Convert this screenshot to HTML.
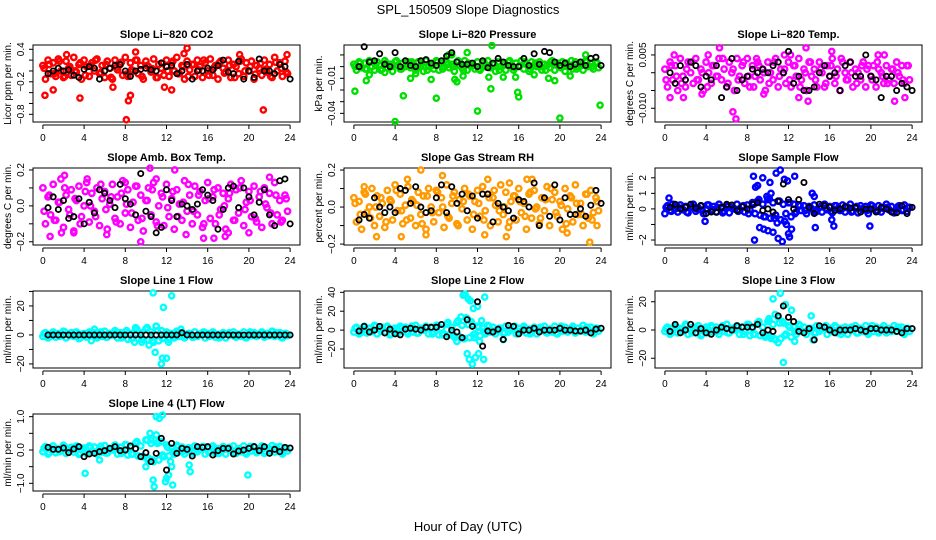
<!DOCTYPE html>
<html><head><meta charset="utf-8"><title>SPL_150509 Slope Diagnostics</title>
<style>
html,body{margin:0;padding:0;background:#fff;}
svg{display:block;font-family:"Liberation Sans",Arial,sans-serif;}
</style></head>
<body>
<svg id="chart" width="936" height="540" viewBox="0 0 936 540">
<text x="468" y="14" text-anchor="middle" font-size="13">SPL_150509  Slope Diagnostics</text>
<text x="468" y="531" text-anchor="middle" font-size="13">Hour of Day (UTC)</text>
</svg>
<script>
// shared x categories
var bandHours = [0,0.25,0.5,0.75,1,1.25,1.5,1.75,2,2.25,2.5,2.75,3,3.25,3.5,3.75,4,4.25,4.5,4.75,5,5.25,5.5,5.75,6,6.25,6.5,6.75,7,7.25,7.5,7.75,8,8.25,8.5,8.75,9,9.25,9.5,9.75,10,10.25,10.5,10.75,11,11.25,11.5,11.75,12,12.25,12.5,12.75,13,13.25,13.5,13.75,14,14.25,14.5,14.75,15,15.25,15.5,15.75,16,16.25,16.5,16.75,17,17.25,17.5,17.75,18,18.25,18.5,18.75,19,19.25,19.5,19.75,20,20.25,20.5,20.75,21,21.25,21.5,21.75,22,22.25,22.5,22.75,23,23.25,23.5,23.75];
var band2Hours = [0.12,0.62,1.12,1.62,2.12,2.62,3.12,3.62,4.12,4.62,5.12,5.62,6.12,6.62,7.12,7.62,8.12,8.62,9.12,9.62,10.12,10.62,11.12,11.62,12.12,12.62,13.12,13.62,14.12,14.62,15.12,15.62,16.12,16.62,17.12,17.62,18.12,18.62,19.12,19.62,20.12,20.62,21.12,21.62,22.12,22.62,23.12,23.62];
var blackHours = [0.5,1,1.5,2,2.5,3,3.5,4,4.5,5,5.5,6,6.5,7,7.5,8,8.5,9,9.5,10,10.5,11,11.5,12,12.5,13,13.5,14,14.5,15,15.5,16,16.5,17,17.5,18,18.5,19,19.5,20,20.5,21,21.5,22,22.5,23,23.5,24];
var xTicks = [0,4,8,12,16,20,24];

// Panel 1: CO2
var co2Band = [0.1,-0.15,0.2,-0.05,0.15,-0.1,0.22,0.0,-0.12,0.18,0.05,-0.08,0.25,-0.02,0.12,-0.15,0.2,0.08,-0.1,0.15,0.0,0.22,-0.05,0.1,-0.12,0.18,0.05,-0.15,0.2,0.02,0.12,-0.08,0.25,-0.1,0.15,0.0,0.2,-0.05,0.1,-0.15,0.18,0.08,-0.02,0.22,-0.12,0.12,0.05,-0.08,0.2,-0.1,0.15,0.0,0.25,-0.05,0.1,-0.15,0.18,0.02,0.12,-0.1,0.2,0.08,-0.12,0.15,0.0,0.22,-0.08,0.1,-0.15,0.18,0.05,-0.02,0.2,-0.12,0.12,0.08,-0.05,0.22,-0.1,0.15,0.0,0.18,-0.15,0.1,0.05,-0.08,0.2,-0.02,0.12,-0.12,0.25,0.0,0.15,-0.1,0.18,-0.05];
var co2Band2 = [0.05,0.12,-0.05,0.18,-0.1,0.08,0.0,0.15,-0.08,0.1,0.2,-0.03,0.12,-0.12,0.06,0.16,-0.06,0.02,0.2,-0.1,0.1,0.04,-0.12,0.14,0.0,0.18,-0.05,0.08,-0.1,0.12,0.02,0.2,-0.08,0.06,0.15,-0.04,0.1,-0.12,0.18,0.0,0.08,-0.06,0.14,0.03,-0.1,0.16,0.05,-0.02];
var co2Black = [-0.05,0.0,0.05,0.0,0.02,-0.08,-0.12,0.03,0.08,0.05,-0.15,0.0,0.05,0.1,0.12,0.0,-0.1,0.0,0.03,0.05,0.02,0.0,0.15,0.08,0.1,-0.05,0.0,0.12,-0.15,0.0,0.0,0.05,0.02,0.1,0.2,-0.02,-0.05,0.18,-0.15,0.0,-0.12,0.22,0.0,0.0,-0.05,0.12,0.08,-0.15];
var co2OutH = [0.2,1.0,3.6,8.1,8.3,8.5,13.7,14.0,19.1,21.4,23.7,2.3,11.8,12.5,6.8,9.0];
var co2OutV = [-0.45,-0.35,-0.5,-0.9,-0.55,-0.45,0.32,0.42,0.3,-0.72,0.3,0.3,-0.3,-0.35,-0.3,0.35];

// Panel 2: Pressure
var presBand = [0.002,-0.003,0.004,-0.001,0.003,-0.002,0.005,0.0,-0.003,0.004,0.001,-0.002,0.005,-0.001,0.002,-0.004,0.004,0.001,-0.002,0.003,0.0,0.004,-0.001,0.002,-0.003,0.004,0.001,-0.004,0.005,0.0,0.002,-0.002,0.005,-0.003,0.003,0.0,0.004,-0.001,0.002,-0.004,0.004,0.001,-0.001,0.005,-0.003,0.002,0.001,-0.002,0.004,-0.003,0.003,0.0,0.005,-0.001,0.002,-0.004,0.004,0.0,0.002,-0.003,0.004,0.001,-0.003,0.003,0.0,0.005,-0.002,0.002,-0.004,0.004,0.001,0.0,0.004,-0.003,0.002,0.001,-0.001,0.005,-0.003,0.003,0.0,0.004,-0.004,0.002,0.001,-0.002,0.004,0.0,0.002,-0.003,0.005,0.0,0.003,-0.002,0.004,-0.001];
var presBand2 = [0.0,0.003,-0.002,0.004,0.001,-0.003,0.003,0.0,0.005,-0.002,0.002,0.004,-0.001,0.003,-0.003,0.001,0.004,-0.002,0.002,0.0,0.005,-0.003,0.003,0.001,-0.002,0.004,0.0,0.002,-0.003,0.003,0.005,-0.001,0.001,0.004,-0.002,0.003,0.0,-0.003,0.004,0.002,-0.001,0.003,0.005,-0.002,0.001,0.004,0.0,0.003];
var presBlack = [0.0,0.017,0.004,0.005,0.011,0.002,0.0,0.012,0.0,0.005,0.001,0.0,0.005,0.006,0.003,0.001,0.005,0.009,0.012,0.004,0.002,0.002,0.003,0.0,0.005,-0.001,0.003,0.007,0.004,0.001,0.0,0.0,0.007,0.001,0.011,0.002,0.013,0.012,0.004,0.001,0.003,0.0,0.002,0.004,0.001,0.007,0.008,0.001];
var presOutH = [0.1,1.2,1.5,4.0,4.8,8.0,12.0,13.3,13.4,15.9,16.0,20.0,23.9,5.5,7.5,9.2,10.0,14.5,17.5,19.5,21.0,22.5,9.5,11.0,6.0,3.0,9.8,10.6,13.1,15.7,18.9];
var presOutV = [-0.021,-0.012,-0.007,-0.047,-0.025,-0.027,-0.038,-0.019,0.018,-0.022,-0.026,-0.044,-0.033,-0.01,-0.011,0.01,-0.013,-0.009,-0.007,-0.012,-0.008,0.01,0.01,0.012,-0.006,-0.005,-0.011,-0.008,-0.009,-0.009,-0.01];

// Panel 3: Li-820 Temp
var tempBand = [0.001,-0.004,0.003,-0.002,0.002,-0.005,0.004,-0.001,-0.004,0.003,0.0,-0.003,0.004,-0.002,0.001,-0.005,0.003,0.0,-0.003,0.002,-0.001,0.004,-0.002,0.001,-0.004,0.003,0.0,-0.005,0.004,-0.001,0.002,-0.003,0.004,-0.004,0.002,-0.001,0.003,-0.002,0.001,-0.005,0.003,0.0,-0.002,0.004,-0.004,0.001,0.0,-0.003,0.003,-0.004,0.002,-0.001,0.004,-0.002,0.001,-0.005,0.003,-0.001,0.001,-0.004,0.003,0.0,-0.004,0.002,-0.001,0.004,-0.003,0.001,-0.005,0.003,0.0,-0.002,0.003,-0.004,0.001,0.0,-0.002,0.003,-0.004,0.002,-0.001,0.002,-0.004,0.001,0.0,-0.003,0.002,-0.002,0.001,-0.003,0.003,-0.001,0.002,-0.003,0.002,-0.002];
var tempBand2 = [-0.002,0.002,-0.001,-0.003,0.001,0.003,-0.002,0.0,-0.004,0.002,-0.001,0.004,-0.003,0.001,-0.002,0.003,-0.001,-0.004,0.002,0.0,-0.003,0.003,-0.001,0.001,-0.002,0.002,-0.004,0.0,0.003,-0.002,0.001,-0.003,0.002,-0.001,0.004,-0.002,0.0,-0.003,0.002,0.001,-0.002,0.003,-0.001,-0.003,0.001,0.0,-0.002,0.002];
var tempBlack = [0.0,-0.003,0.002,-0.002,0.003,0.002,-0.004,-0.001,-0.002,0.002,-0.007,-0.004,0.004,-0.005,-0.002,-0.001,0.001,0.0,0.001,0.0,0.002,0.003,0.0,0.006,-0.003,-0.001,-0.005,-0.005,-0.004,0.0,0.002,-0.001,0.0,-0.005,0.002,0.003,-0.001,-0.001,0.005,-0.001,-0.002,-0.007,-0.001,-0.001,-0.005,-0.003,-0.004,-0.005];
var tempOutH = [0.5,5.3,6.6,6.9,13.7,0.9,4.2,8.9,11.6,12.2,13.0,16.2,20.7,21.3,22.3,23.3,13.9,3.6,9.6,1.8];
var tempOutV = [-0.007,0.007,-0.011,-0.013,0.007,0.005,0.005,0.004,0.005,0.005,-0.007,0.006,0.005,0.005,-0.008,-0.007,-0.008,-0.006,-0.006,-0.007];

// Panel 4: Ambient Box Temp
var ambBand = [0.1,-0.1,0.05,-0.05,0.12,-0.08,0.02,0.15,-0.12,0.06,-0.02,0.09,-0.14,0.03,0.11,-0.06,0.0,0.13,-0.09,0.07,-0.03,0.1,-0.11,0.04,0.08,-0.13,0.01,0.12,-0.07,0.05,-0.1,0.14,-0.04,0.09,-0.12,0.02,0.11,-0.08,0.06,-0.14,0.03,0.1,-0.05,0.13,-0.09,0.0,0.07,-0.11,0.12,-0.06,0.04,-0.13,0.09,0.01,-0.08,0.14,-0.03,0.06,-0.1,0.11,-0.05,0.08,-0.12,0.03,0.13,-0.07,0.05,-0.1,0.1,-0.02,0.07,-0.13,0.04,0.12,-0.08,0.09,-0.04,0.14,-0.11,0.02,0.08,-0.06,0.11,-0.09,0.05,-0.12,0.1,-0.01,0.07,-0.1,0.13,-0.05,0.03,-0.08,0.06,-0.03];
var ambBand2 = [-0.03,0.06,-0.08,0.02,0.1,-0.05,0.04,-0.1,0.08,0.0,-0.06,0.12,-0.02,0.05,-0.09,0.07,0.01,-0.04,0.11,-0.07,0.03,0.09,-0.11,0.05,-0.01,0.08,-0.06,0.02,0.12,-0.03,0.06,-0.1,0.04,0.09,-0.05,0.0,0.07,-0.08,0.1,-0.02,0.03,-0.07,0.08,0.01,-0.04,0.06,-0.09,0.04];
var ambBlack = [-0.01,0.05,-0.02,0.03,-0.07,-0.06,0.04,-0.1,0.02,-0.04,0.09,0.07,0.03,-0.01,0.12,0.04,0.01,-0.05,0.18,-0.03,-0.06,-0.15,-0.12,0.09,0.03,-0.06,0.01,0.0,-0.02,0.01,0.09,0.06,0.03,-0.13,-0.02,0.1,0.11,-0.01,0.1,0.05,-0.05,0.02,0.09,-0.05,-0.11,0.14,0.15,-0.1];
var ambOutH = [0.7,1.8,3.0,6.2,4.3,9.5,10.4,11.0,12.8,15.6,16.6,18.0,2.1,8.0,13.9,17.7,22.0,20.0];
var ambOutV = [-0.17,-0.15,-0.15,-0.16,0.15,-0.2,0.21,0.15,0.2,-0.18,-0.18,-0.15,0.17,0.13,-0.16,-0.17,0.16,-0.15];

// Panel 5: Gas Stream RH
var rhBand = [0.05,-0.08,0.03,-0.12,0.08,-0.03,0.0,0.1,-0.1,0.06,-0.05,0.02,-0.11,0.09,0.04,-0.07,0.12,-0.02,0.07,-0.09,0.01,0.11,-0.06,0.03,-0.1,0.08,-0.04,0.06,-0.12,0.1,0.0,-0.08,0.09,-0.03,0.05,-0.11,0.12,-0.06,0.02,0.08,-0.09,0.04,-0.01,0.1,-0.07,0.06,-0.12,0.03,0.09,-0.05,0.11,-0.02,0.07,-0.1,0.05,0.01,-0.08,0.12,-0.04,0.08,-0.11,0.03,0.06,-0.07,0.1,-0.03,0.02,-0.12,0.07,-0.06,0.09,0.0,-0.09,0.05,-0.02,0.11,-0.1,0.04,0.08,-0.05,0.03,-0.12,0.1,-0.01,0.06,-0.08,0.12,-0.04,0.02,-0.1,0.07,-0.06,0.09,-0.03,0.05,-0.02];
var rhBand2 = [0.02,-0.04,0.07,-0.06,0.0,0.05,-0.08,0.03,0.09,-0.02,-0.07,0.04,0.01,-0.09,0.06,-0.03,0.08,0.0,-0.05,0.06,-0.1,0.03,0.07,-0.04,0.02,-0.07,0.05,0.09,-0.02,0.0,-0.08,0.06,0.03,-0.05,0.08,-0.01,-0.06,0.04,0.1,-0.03,0.01,-0.09,0.05,0.02,-0.04,0.07,-0.07,0.03];
var rhBlack = [-0.07,-0.04,-0.06,0.05,0.0,-0.03,0.0,-0.03,0.1,0.09,0.02,0.11,0.0,-0.03,-0.02,0.05,0.12,-0.03,0.11,0.02,0.07,-0.02,0.06,-0.06,0.07,0.07,-0.08,0.02,0.0,-0.02,-0.06,0.04,0.03,0.0,0.13,-0.1,0.05,-0.05,0.12,-0.07,0.05,-0.04,-0.04,-0.01,-0.05,0.01,0.09,0.02];
var rhOutH = [2.2,1.0,5.2,4.6,6.5,7.0,8.6,12.7,14.8,16.8,17.3,22.9,23.6,15.1,20.7,13.0];
var rhOutV = [-0.16,0.11,0.15,-0.16,0.2,-0.15,0.17,-0.15,-0.16,0.15,0.15,-0.19,-0.1,0.13,-0.14,0.15];

// Panel 6: Sample Flow
var sfBand = [-0.3,0.2,-0.1,0.3,0.0,-0.2,0.25,-0.05,0.15,-0.25,0.1,0.3,-0.15,0.05,0.2,-0.3,0.0,0.25,-0.1,0.15,-0.2,0.3,0.05,-0.15,0.2,-0.25,0.1,0.0,0.3,-0.1,0.15,-0.2,0.25,-0.05,0.4,-0.3,0.5,-0.4,0.3,-0.5,0.6,-0.6,0.4,-0.4,0.5,-0.7,0.3,-0.3,0.4,-0.5,0.3,-0.2,0.25,-0.1,0.2,-0.3,0.15,0.0,0.25,-0.15,0.1,-0.2,0.3,-0.05,0.15,-0.25,0.2,0.0,-0.1,0.25,-0.2,0.1,0.3,-0.15,0.05,-0.25,0.2,-0.05,0.15,-0.3,0.25,0.0,-0.1,0.2,-0.2,0.1,0.3,-0.05,0.15,-0.25,0.05,0.2,-0.1,0.25,-0.15,0.1];
var sfBand2 = [0.1,-0.15,0.2,0.05,-0.2,0.15,0.0,-0.1,0.25,-0.05,0.1,-0.25,0.15,0.05,-0.15,0.2,-0.3,0.3,0.6,-0.5,0.7,-0.6,0.5,-0.8,0.4,-0.3,0.2,-0.1,0.1,-0.2,0.15,0.05,-0.15,0.2,-0.05,0.1,-0.2,0.15,0.0,-0.1,0.2,-0.15,0.05,0.1,-0.2,0.15,-0.05,0.1];
var sfBlack = [0.1,0.3,0.0,0.1,0.3,0.05,0.2,-0.3,-0.2,-0.2,0.1,0.3,0.25,-0.1,0.15,0.0,0.3,0.4,-0.1,0.0,-0.2,0.5,1.6,0.6,0.0,0.6,1.7,0.1,-0.3,0.3,0.2,0.1,-0.1,0.0,0.15,0.05,0.1,-0.2,0.0,0.0,-0.2,0.1,0.0,-0.2,-0.25,0.2,-0.3,0.1];
var sfOutH = [0.4,8.6,8.7,9.0,9.2,9.5,9.6,10.0,10.2,10.5,10.8,11.0,11.2,11.4,11.6,12.0,12.3,12.6,14.3,14.6,16.2,16.4,19.9,3.9,10.9,11.9,8.8,11.8,9.9,10.3,12.1,14.5];
var sfOutV = [0.7,2.1,-2.0,1.5,-1.2,2.0,-1.3,-1.4,1.7,-1.5,2.3,-1.9,2.5,-2.1,1.9,-1.6,-1.3,2.1,1.0,-1.2,-0.7,-1.1,-1.1,-0.8,-0.9,1.8,1.4,-1.0,0.8,1.0,-1.8,0.8];

// Panel 7: Line 1 Flow
var l1Band = [-1,1.5,-2,0.5,2,-1.5,1,-0.5,2.5,-2,0.5,1.5,-1,2,-2.5,0.5,1,-1.5,2,-0.5,1.5,-2,0.5,-1,2.5,-1.5,1,0,3,-2,1.5,-1,2,-3,1,-2,3.5,-2.5,1.5,-3,4,-3.5,2,-5,6,-4,3,-2,2,-3,1,-2,2.5,-1,1.5,-2,0.5,1,-1.5,2,-1,0.5,1.5,-2,1,-0.5,2,-1.5,0.5,-1,1.5,-2,1,0,2,-1.5,0.5,-1,2,-2,1,-0.5,1.5,-1,0.5,2,-1.5,1,-0.5,2.5,-1,0.5,1.5,-2,1,-0.5];
var l1Band2 = [1,-1.5,0.5,-1,2,-0.5,1.5,-2,0,1,-1,2,-1.5,0.5,1.5,-2,3,-2.5,4,-3,5,-4,3,-2.5,1.5,-1,2,-0.5,1,-1.5,0.5,2,-1,1,-2,0.5,1.5,-1,0,-1.5,2,-0.5,1,-1,0.5,1.5,-1.5,1];
var l1Black = [0,0,0,0,0,0,0,0,0,0,0,0,0,0,0,0,0,0,0,0,0,0,0,0,0,0,1.5,0,0,0,0,0,0,0,0,0,0,0,0,0,0,0,0,0,0,0,0,0];
var l1OutH = [10.7,11.5,11.7,12.5,10.9,11.0,11.6,12.0,12.2,8.9,9.6,10.3,9.0,13.4,5.0,4.7];
var l1OutV = [29,-20,19,27,-12,6,-16,-16,-5,-5,-5,-7,5,4,4,-4];

// Panel 8: Line 2 Flow
var l2Band = [-2,3,-4,1,4,-3,2,-1,5,-4,1,3,-2,4,-5,1,2,-3,4,-1,3,-4,1,-2,5,-3,2,0,4,-4,3,-2,5,-5,2,-4,6,-5,3,-6,8,-7,5,-9,12,-8,6,-4,4,-6,2,-4,5,-2,3,-4,1,2,-3,4,-2,1,3,-4,2,-1,4,-3,1,-2,3,-4,2,0,4,-3,1,-2,4,-4,2,-1,3,-2,1,4,-3,2,-1,5,-2,1,3,-4,2,-1];
var l2Band2 = [2,-3,1,-2,4,-1,3,-4,0,2,-2,4,-3,1,3,-4,5,-5,8,-6,10,-9,6,-5,3,-2,4,-1,2,-3,1,4,-2,2,-4,1,3,-2,0,-3,4,-1,2,-2,1,3,-3,2];
var l2Black = [-1,4,-2,0,4,-3,1,-4,-5,1,2,1,0,3,3,3,6,-7,0,-2,-8,11,4,30,-17,-1,-2,1,-10,5,4,-4,0,0,2,-2,0,0,0,2,0,0,-1,-1,0,-3,1,2];
var l2OutH = [10.6,10.8,11.1,11.3,11.6,12.0,12.7,11.0,11.2,11.5,11.8,12.1,12.6,10.4,10.9,11.4,12.2,14.5,10.0,9.8,12.4,11.7];
var l2OutV = [37,38,33,31,23,25,35,-25,-31,-36,-29,-25,-31,14,13,9,-12,-10,-12,-8,10,-8];

// Panel 9: Line 3 Flow
var l3Band = [-1,2,-3,1,3,-2,1,-1,4,-3,0,2,-2,3,-4,1,2,-2,3,-1,2,-3,1,-1,4,-2,1,0,3,-3,2,-1,4,-4,1,-3,5,-4,2,-5,6,-5,4,-7,9,-6,5,-3,3,-5,2,-3,4,-1,2,-3,1,1,-2,3,-1,1,2,-3,1,-1,3,-2,1,-1,2,-3,1,0,3,-2,1,-1,3,-3,1,-1,2,-2,1,3,-2,1,-1,3,-1,1,2,-3,1,-1];
var l3Band2 = [1,-2,2,-1,3,-2,1,-3,0,2,-1,3,-2,1,2,-3,4,-3,6,-4,7,-6,5,-4,2,-1,3,-1,1,-2,1,3,-1,2,-3,0,2,-2,1,-2,3,-1,1,-1,0,2,-2,1];
var l3Black = [-1,4,-2,0,4,-2,1,-2,-3,0,2,1,0,3,2,2,2,4,-2,0,-1,10,17,9,6,-1,-2,1,-7,3,2,0,-2,0,0,0,1,0,-1,1,1,0,0,0,-1,-2,1,1];
var l3OutH = [10.5,11.2,11.7,12.3,11.5,10.1,10.3,11.0,12.6,14.2,14.4,10.0,10.7,11.4];
var l3OutV = [22,26,18,14,-23,8,-6,-9,-8,10,-7,-4,11,6];

// Panel 10: Line 4 (LT) Flow
var l4Band = [-0.05,0.1,-0.12,0.05,0.12,-0.08,0.03,-0.02,0.14,-0.1,0.02,0.08,-0.06,0.12,-0.13,0.04,0.06,-0.1,0.12,-0.04,0.09,-0.12,0.03,-0.06,0.13,-0.09,0.05,0.0,0.15,-0.12,0.08,-0.06,0.16,-0.15,0.08,-0.12,0.2,-0.18,0.12,-0.2,0.3,-0.25,0.2,-0.35,0.45,-0.3,0.25,-0.2,0.15,-0.18,0.06,-0.12,0.14,-0.05,0.09,-0.12,0.04,0.06,-0.1,0.12,-0.05,0.03,0.1,-0.12,0.06,-0.04,0.12,-0.1,0.04,-0.06,0.1,-0.12,0.06,0.0,0.12,-0.1,0.04,-0.05,0.12,-0.12,0.06,-0.03,0.1,-0.08,0.04,0.12,-0.1,0.06,-0.04,0.13,-0.06,0.03,0.1,-0.12,0.05,-0.03];
var l4Band2 = [0.06,-0.08,0.02,-0.05,0.1,-0.03,0.07,-0.1,0.0,0.08,-0.06,0.11,-0.09,0.04,0.09,-0.1,0.15,-0.12,0.25,-0.2,0.3,-0.3,0.2,-0.15,0.08,-0.05,0.1,-0.04,0.06,-0.09,0.03,0.1,-0.07,0.05,-0.1,0.02,0.08,-0.06,0.0,-0.08,0.1,-0.03,0.06,-0.05,0.02,0.09,-0.08,0.05];
var l4Black = [0.08,0.02,0.02,0.06,-0.08,0.03,0.1,-0.2,-0.12,-0.1,-0.05,-0.02,0.05,0.1,-0.02,0.0,0.12,0.04,-0.2,-0.08,-0.35,-0.1,0.35,-0.6,0.2,-0.1,0.05,0.02,-0.18,0.1,0.08,0.1,-0.15,-0.02,0.05,0.05,-0.12,-0.03,0.0,0.05,0.1,-0.02,0.1,-0.1,0.02,-0.05,0.08,0.06];
var l4OutH = [4.1,5.5,10.0,10.4,10.7,10.8,11.0,11.3,11.6,10.2,10.5,11.9,12.0,12.2,12.5,12.6,14.2,14.3,19.9,11.2,12.4];
var l4OutV = [-0.7,-0.3,-0.5,0.5,-0.9,-1.1,1.0,0.95,1.05,-0.3,0.3,-0.95,-0.85,-0.75,-0.5,-1.05,-0.45,-0.65,-0.75,0.25,-0.35];

var panels = [
 {name:'co2',title:'Slope Li\u2212820 CO2',ylab:'Licor ppm per min.',col:0,row:0,ymin:-0.942,ymax:0.479,ticks:[-0.8,-0.6,-0.4,-0.2,0,0.2,0.4],labels:['\u22120.8','','','\u22120.2','','','0.4'],color:'#ff0000',band:co2Band,band2:co2Band2,black:co2Black,outH:co2OutH,outV:co2OutV},
 {name:'pressure',title:'Slope Li\u2212820 Pressure',ylab:'kPa per min.',col:1,row:0,ymin:-0.0474,ymax:0.0185,ticks:[-0.04,-0.03,-0.02,-0.01,0,0.01],labels:['\u22120.04','','','\u22120.01','',''],color:'#00e000',band:presBand,band2:presBand2,black:presBlack,outH:presOutH,outV:presOutV},
 {name:'li820-temp',title:'Slope Li\u2212820 Temp.',ylab:'degrees C per min.',col:2,row:0,ymin:-0.01386,ymax:0.0078,ticks:[-0.01,-0.005,0,0.005],labels:['\u22120.010','','','0.005'],color:'#ff00ff',band:tempBand,band2:tempBand2,black:tempBlack,outH:tempOutH,outV:tempOutV},
 {name:'amb-box-temp',title:'Slope Amb. Box Temp.',ylab:'degrees C per min.',col:0,row:1,ymin:-0.218,ymax:0.211,ticks:[-0.2,-0.1,0,0.1,0.2],labels:['\u22120.2','','0.0','','0.2'],color:'#ff00ff',band:ambBand,band2:ambBand2,black:ambBlack,outH:ambOutH,outV:ambOutV},
 {name:'gas-stream-rh',title:'Slope Gas Stream RH',ylab:'percent per min.',col:1,row:1,ymin:-0.205,ymax:0.211,ticks:[-0.2,-0.1,0,0.1,0.2],labels:['\u22120.2','','0.0','','0.2'],color:'#ff9a00',band:rhBand,band2:rhBand2,black:rhBlack,outH:rhOutH,outV:rhOutV},
 {name:'sample-flow',title:'Slope Sample Flow',ylab:'ml/min per min.',col:2,row:1,ymin:-2.32,ymax:2.63,ticks:[-2,-1,0,1,2],labels:['\u22122','','0','1','2'],color:'#0000ff',band:sfBand,band2:sfBand2,black:sfBlack,outH:sfOutH,outV:sfOutV},
 {name:'line1-flow',title:'Slope Line 1 Flow',ylab:'ml/min per min.',col:0,row:2,ymin:-22.8,ymax:30.3,ticks:[-20,-10,0,10,20,30],labels:['\u221220','','0','','20',''],color:'#00ffff',band:l1Band,band2:l1Band2,black:l1Black,outH:l1OutH,outV:l1OutV},
 {name:'line2-flow',title:'Slope Line 2 Flow',ylab:'ml/min per min.',col:1,row:2,ymin:-40.1,ymax:41.4,ticks:[-20,0,20,40],labels:['\u221220','0','20','40'],color:'#00ffff',band:l2Band,band2:l2Band2,black:l2Black,outH:l2OutH,outV:l2OutV},
 {name:'line3-flow',title:'Slope Line 3 Flow',ylab:'ml/min per min.',col:2,row:2,ymin:-26.9,ymax:27.6,ticks:[-20,0,20],labels:['\u221220','0','20'],color:'#00ffff',band:l3Band,band2:l3Band2,black:l3Black,outH:l3OutH,outV:l3OutV},
 {name:'line4-flow',title:'Slope Line 4 (LT) Flow',ylab:'ml/min per min.',col:0,row:3,ymin:-1.23,ymax:1.08,ticks:[-1,-0.5,0,0.5,1],labels:['\u22121.0','','0.0','','1.0'],color:'#00ffff',band:l4Band,band2:l4Band2,black:l4Black,outH:l4OutH,outV:l4OutV}
];

var NS='http://www.w3.org/2000/svg';
var svg=document.getElementById('chart');
var colLeft=[33,344,655], W=267, H=77;
function mk(tag,attrs,parent){var e=document.createElementNS(NS,tag);for(var k in attrs)e.setAttribute(k,attrs[k]);parent.appendChild(e);return e;}

panels.forEach(function(p){
  var L=colLeft[p.col], T=45+123*p.row, B=T+H;
  var g=mk('g',{},svg);
  
  
  function xs(h){return L+(h+0.96)/25.92*W;}
  function ys(v){return B-(v-p.ymin)/(p.ymax-p.ymin)*H;}
  var t=mk('text',{x:L+W/2,y:T-7,'text-anchor':'middle','font-size':'11','font-weight':'bold'},g);
  t.textContent=p.title;
  
  
  var box=mk('rect',{x:L,y:T,width:W,height:H,fill:'none',stroke:'#000','stroke-width':1},g);
  
  
  var xa=mk('g',{},g);
  
  
  mk('line',{x1:xs(0),x2:xs(24),y1:B+3,y2:B+3,stroke:'#000'},xa);
  xTicks.forEach(function(h){
    mk('line',{x1:xs(h),x2:xs(h),y1:B+3,y2:B+7,stroke:'#000'},xa);
    var tl=mk('text',{x:xs(h),y:B+19,'text-anchor':'middle','font-size':'10'},xa);
    tl.textContent=h;
    
    
  });
  var ya=mk('g',{},g);
  
  
  var tv=p.ticks.filter(function(v){return v>=p.ymin&&v<=p.ymax;});
  mk('line',{x1:L,x2:L,y1:ys(tv[0]),y2:ys(tv[tv.length-1]),stroke:'#000'},ya);
  p.ticks.forEach(function(v,i){
    if(v<p.ymin||v>p.ymax)return;
    mk('line',{x1:L-4,x2:L,y1:ys(v),y2:ys(v),stroke:'#000'},ya);
    if(p.labels[i]){
      var yl=mk('text',{x:L-9,y:ys(v),'text-anchor':'middle','font-size':'10',transform:'rotate(-90 '+(L-9)+' '+ys(v)+')'},ya);
      yl.textContent=p.labels[i];
      
      
    }
  });
  var yt=mk('text',{x:L-22,y:T+H/2,'text-anchor':'middle','font-size':'10',transform:'rotate(-90 '+(L-22)+' '+(T+H/2)+')'},g);
  yt.textContent=p.ylab;
  
  
  var cs=mk('g',{fill:'none',stroke:p.color,'stroke-width':2.4},g);
  
  
  p.band.forEach(function(v,i){
    if(i>=bandHours.length)return;
    var c=mk('circle',{cx:xs(bandHours[i]),cy:ys(v),r:2.7},cs);
    
    
  });
  p.band2.forEach(function(v,i){
    if(i>=band2Hours.length)return;
    var c=mk('circle',{cx:xs(band2Hours[i]),cy:ys(v),r:2.7},cs);
    
    
  });
  p.outH.forEach(function(h,i){
    var c=mk('circle',{cx:xs(h),cy:ys(p.outV[i]),r:2.6},cs);
    
    
  });
  var bs=mk('g',{fill:'none',stroke:'#000','stroke-width':1.8},g);
  
  
  p.black.forEach(function(v,i){
    if(i>=blackHours.length)return;
    var c=mk('circle',{cx:xs(blackHours[i]),cy:ys(v),r:2.6},bs);
    
    
  });
});
</script>
</body></html>
